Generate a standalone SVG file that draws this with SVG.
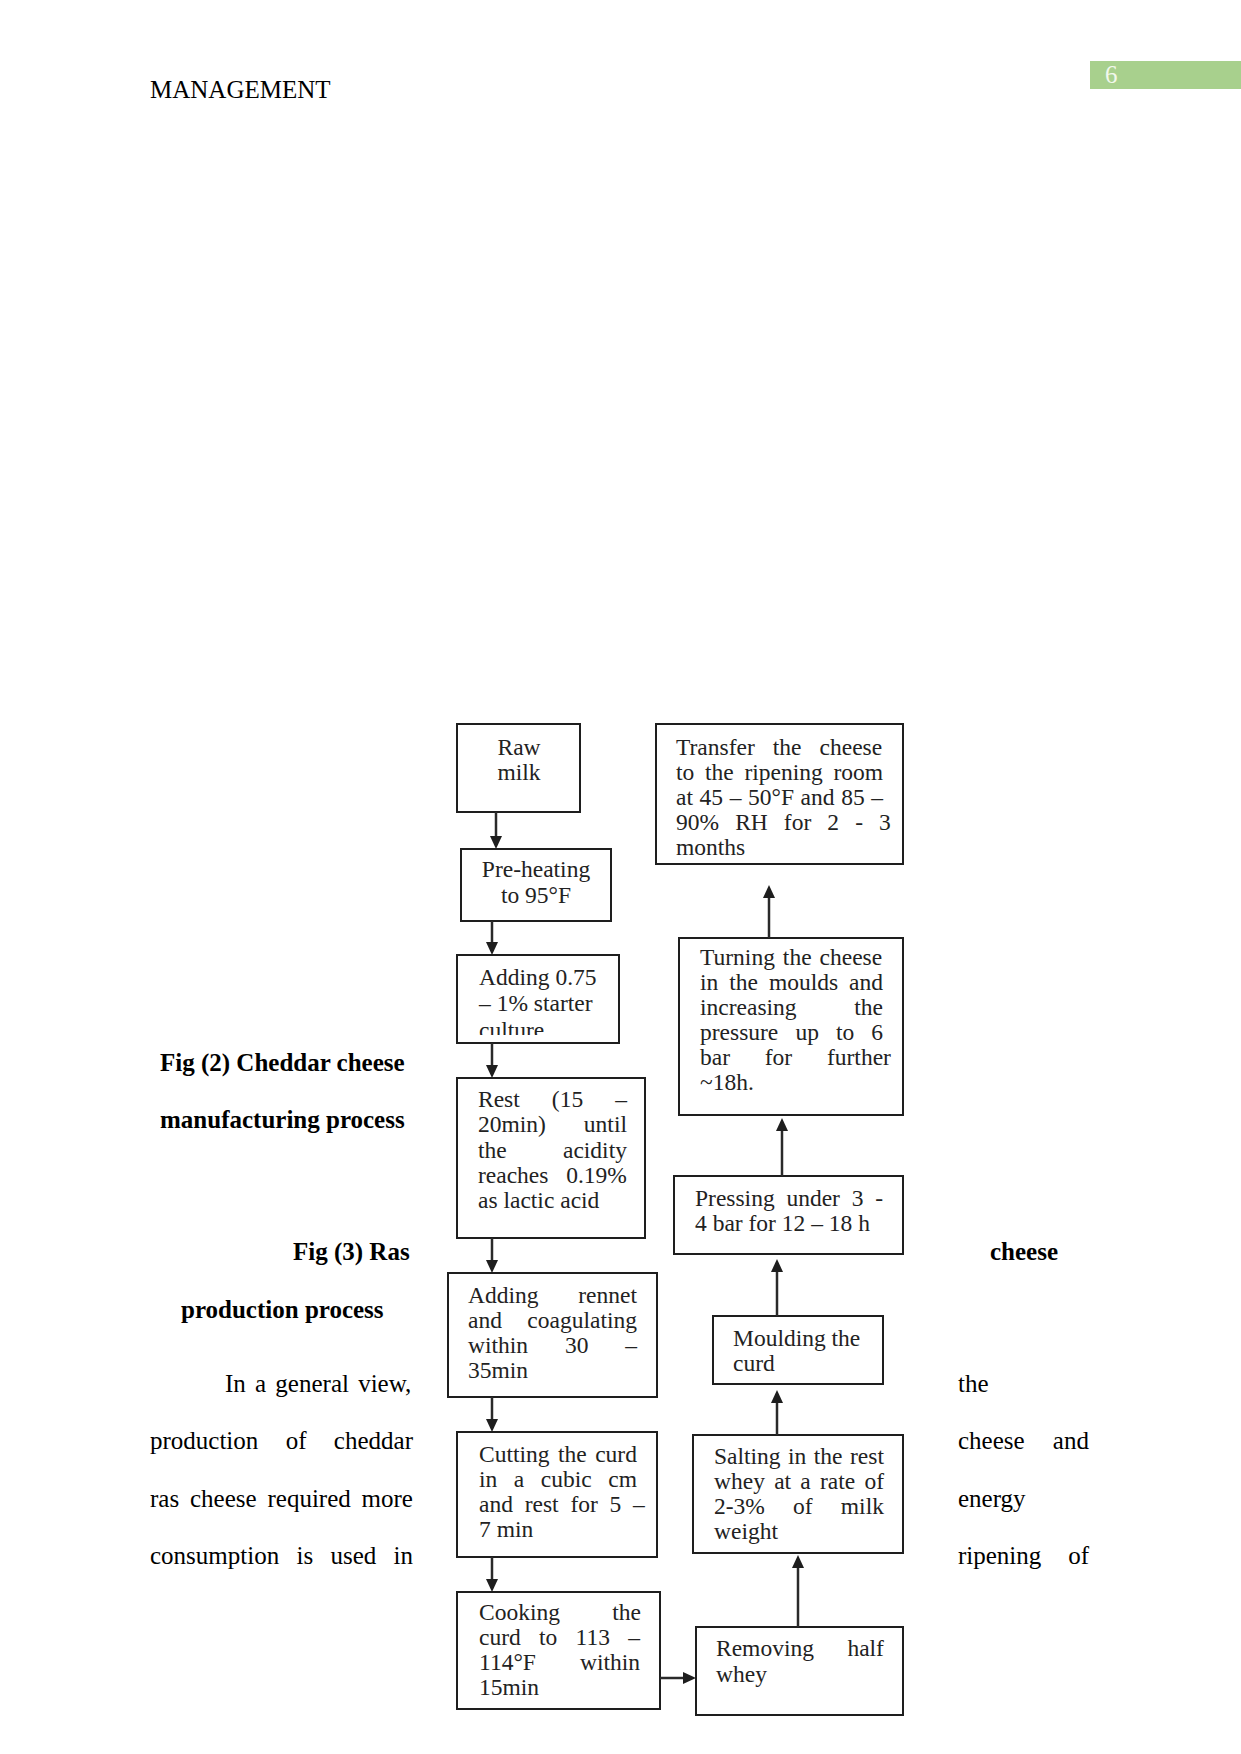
<svg xmlns="http://www.w3.org/2000/svg" width="1241" height="1754" viewBox="0 0 1241 1754">
<style>
.box{fill:#fff;stroke:#1e1e1e;stroke-width:2}
.t{font-family:"Liberation Serif","Times New Roman",serif;font-size:23.5px;fill:#222}
.c{text-anchor:middle}
.b{font-family:"Liberation Serif","Times New Roman",serif;font-size:25px;fill:#000}
.bb{font-weight:bold}
.conn line{stroke:#2a2a2a;stroke-width:2.5}
</style>
<defs>
<marker id="ah" markerWidth="14" markerHeight="14" refX="7" refY="7" orient="auto" markerUnits="userSpaceOnUse">
<path d="M0,1 L13,7 L0,13 z" fill="#1e1e1e"/>
</marker>
<clipPath id="clipAdd"><rect x="456" y="955" width="164" height="80"/></clipPath>
</defs>
<rect width="1241" height="1754" fill="#fff"/>

<g id="header">
<text class="b" x="150" y="98">MANAGEMENT</text>
<rect x="1090" y="61" width="151" height="28" fill="#a8d08d"/>
<text class="b" x="1105" y="83" fill="#f2f8ec" style="fill:#f2f8ec">6</text>
</g>

<g id="captions">
<text class="b bb" x="160" y="1071">Fig (2) Cheddar cheese</text>
<text class="b bb" x="160" y="1128">manufacturing process</text>
<text class="b bb" x="293" y="1260">Fig (3) Ras</text>
<text class="b bb" x="990" y="1260">cheese</text>
<text class="b bb" x="181" y="1318">production process</text>
</g>

<g id="body-text">
<text class="b" x="225" y="1392" style="word-spacing:2.97px">In a general view,</text>
<text class="b" x="150" y="1449" style="word-spacing:21.1px">production of cheddar</text>
<text class="b" x="150" y="1507" style="word-spacing:4.6px">ras cheese required more</text>
<text class="b" x="150" y="1564" style="word-spacing:11.05px">consumption is used in</text>
<text class="b" x="958" y="1392">the</text>
<text class="b" x="958" y="1449" style="word-spacing:22px">cheese and</text>
<text class="b" x="958" y="1507">energy</text>
<text class="b" x="958" y="1564" style="word-spacing:20.6px">ripening of</text>
</g>

<g id="node-raw-milk">
<rect class="box" x="457" y="724" width="123" height="88"/>
<text class="t c" x="519" y="755">Raw</text>
<text class="t c" x="519" y="780">milk</text>
</g>

<g id="node-preheating">
<rect class="box" x="461" y="849" width="150" height="72"/>
<text class="t c" x="536" y="877">Pre-heating</text>
<text class="t c" x="536" y="903">to 95°F</text>
</g>

<g id="node-starter">
<rect class="box" x="457" y="955" width="162" height="88"/>
<g clip-path="url(#clipAdd)">
<text class="t" x="479" y="985">Adding 0.75</text>
<text class="t" x="479" y="1011">– 1% starter</text>
<text class="t" x="479" y="1038">culture</text>
</g>
</g>

<g id="node-rest">
<rect class="box" x="457" y="1078" width="188" height="160"/>
<text class="t" x="478" y="1107" style="word-spacing:26.2px">Rest (15 –</text>
<text class="t" x="478" y="1132" style="word-spacing:32.1px">20min) until</text>
<text class="t" x="478" y="1158" style="word-spacing:50.4px">the acidity</text>
<text class="t" x="478" y="1183" style="word-spacing:11.9px">reaches 0.19%</text>
<text class="t" x="478" y="1208">as lactic acid</text>
</g>

<g id="node-rennet">
<rect class="box" x="448" y="1273" width="209" height="124"/>
<text class="t" x="468" y="1303" style="word-spacing:33.9px">Adding rennet</text>
<text class="t" x="468" y="1328" style="word-spacing:19.5px">and coagulating</text>
<text class="t" x="468" y="1353" style="word-spacing:31px">within 30 –</text>
<text class="t" x="468" y="1378">35min</text>
</g>

<g id="node-cutting">
<rect class="box" x="457" y="1432" width="200" height="125"/>
<text class="t" x="479" y="1462" style="word-spacing:2.6px">Cutting the curd</text>
<text class="t" x="479" y="1487" style="word-spacing:10.7px">in a cubic cm</text>
<text class="t" x="479" y="1512" style="word-spacing:5.9px">and rest for 5 –</text>
<text class="t" x="479" y="1537">7 min</text>
</g>

<g id="node-cooking">
<rect class="box" x="457" y="1592" width="203" height="117"/>
<text class="t" x="479" y="1620" style="word-spacing:46.4px">Cooking the</text>
<text class="t" x="479" y="1645" style="word-spacing:12.4px">curd to 113 –</text>
<text class="t" x="479" y="1670" style="word-spacing:38.3px">114°F within</text>
<text class="t" x="479" y="1695">15min</text>
</g>

<g id="node-removing">
<rect class="box" x="696" y="1627" width="207" height="88"/>
<text class="t" x="716" y="1656" style="word-spacing:27.6px">Removing half</text>
<text class="t" x="716" y="1682">whey</text>
</g>

<g id="node-salting">
<rect class="box" x="693" y="1435" width="210" height="118"/>
<text class="t" x="714" y="1464" style="word-spacing:1.6px">Salting in the rest</text>
<text class="t" x="714" y="1489" style="word-spacing:3.35px">whey at a rate of</text>
<text class="t" x="714" y="1514" style="word-spacing:22.3px">2-3% of milk</text>
<text class="t" x="714" y="1539">weight</text>
</g>

<g id="node-moulding">
<rect class="box" x="713" y="1316" width="170" height="68"/>
<text class="t" x="733" y="1346">Moulding the</text>
<text class="t" x="733" y="1371">curd</text>
</g>

<g id="node-pressing">
<rect class="box" x="674" y="1176" width="229" height="78"/>
<text class="t" x="695" y="1206" style="word-spacing:5.9px">Pressing under 3 -</text>
<text class="t" x="695" y="1231">4 bar for 12 – 18 h</text>
</g>

<g id="node-turning">
<rect class="box" x="679" y="938" width="224" height="177"/>
<text class="t" x="700" y="965" style="word-spacing:2.1px">Turning the cheese</text>
<text class="t" x="700" y="990" style="word-spacing:5.08px">in the moulds and</text>
<text class="t" x="700" y="1015" style="word-spacing:51.8px">increasing the</text>
<text class="t" x="700" y="1040" style="word-spacing:11.2px">pressure up to 6</text>
<text class="t" x="700" y="1065" style="word-spacing:28.9px">bar for further</text>
<text class="t" x="700" y="1090">~18h.</text>
</g>

<g id="node-transfer">
<rect class="box" x="656" y="724" width="247" height="140"/>
<text class="t" x="676" y="755" style="word-spacing:12.15px">Transfer the cheese</text>
<text class="t" x="676" y="780" style="word-spacing:4.82px">to the ripening room</text>
<text class="t" x="676" y="805" style="word-spacing:0.73px">at 45 – 50°F and 85 –</text>
<text class="t" x="676" y="830" style="word-spacing:10.2px">90% RH for 2 - 3</text>
<text class="t" x="676" y="855">months</text>
</g>

<g id="connectors" class="conn">
<line x1="496" y1="812" x2="496" y2="843" marker-end="url(#ah)"/>
<line x1="492" y1="921" x2="492" y2="949" marker-end="url(#ah)"/>
<line x1="492" y1="1043" x2="492" y2="1072" marker-end="url(#ah)"/>
<line x1="492" y1="1238" x2="492" y2="1267" marker-end="url(#ah)"/>
<line x1="492" y1="1397" x2="492" y2="1426" marker-end="url(#ah)"/>
<line x1="492" y1="1557" x2="492" y2="1586" marker-end="url(#ah)"/>
<line x1="660" y1="1678" x2="690" y2="1678" marker-end="url(#ah)"/>
<line x1="798" y1="1627" x2="798" y2="1561" marker-end="url(#ah)"/>
<line x1="777" y1="1435" x2="777" y2="1396" marker-end="url(#ah)"/>
<line x1="777" y1="1316" x2="777" y2="1265" marker-end="url(#ah)"/>
<line x1="782" y1="1176" x2="782" y2="1124" marker-end="url(#ah)"/>
<line x1="769" y1="938" x2="769" y2="891" marker-end="url(#ah)"/>
</g>
</svg>
